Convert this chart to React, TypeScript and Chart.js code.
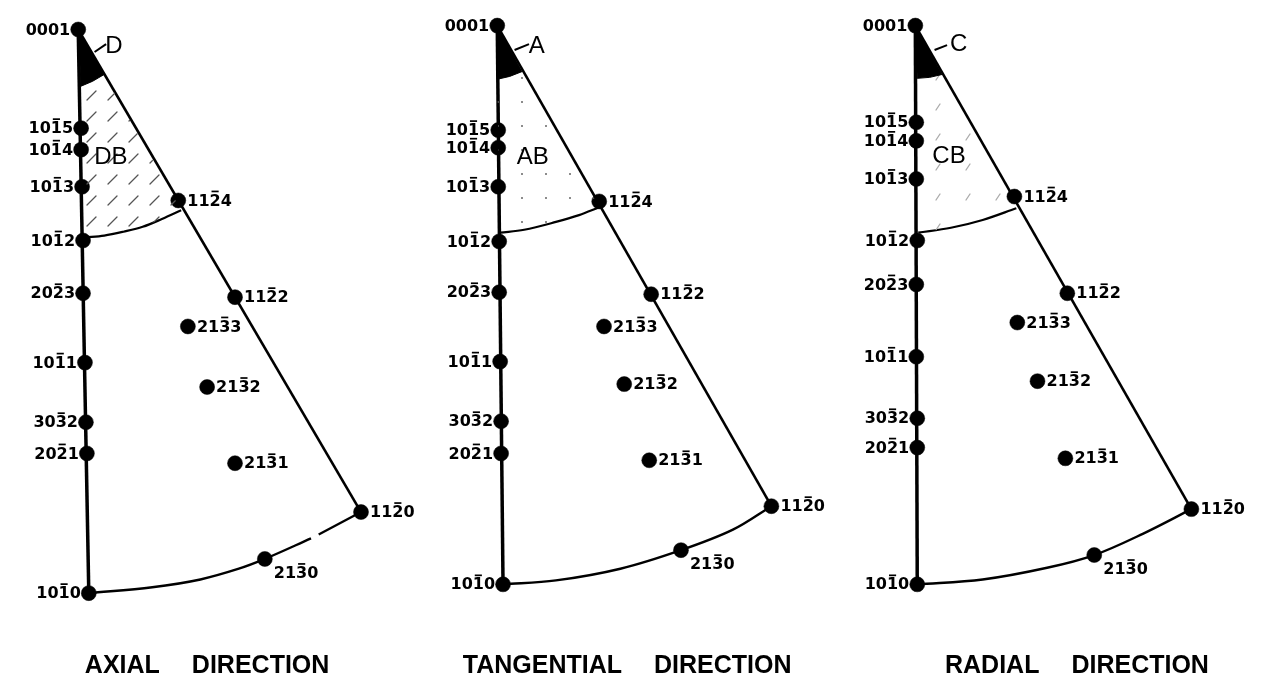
import React, { useEffect, useRef } from "react";
import { Chart, registerables } from "chart.js";

Chart.register(...registerables);

// ---- pole names (Miller-Bravais indices, overbar on the 3rd digit) ----
const poleLabels = ["0001", "1015", "1014", "1013", "1012", "2023", "1011", "3032", "2021", "1010", "2130", "1120", "2131", "2132", "2133", "1122", "1124"];
const poleBar = [-1, 2, 2, 2, 2, 2, 2, 2, 2, 2, 2, 2, 2, 2, 2, 2, 2];
const poleSide = ["left", "left", "left", "left", "left", "left", "left", "left", "left", "left", "below", "right", "right", "right", "right", "right", "right"];

// ---- panel titles ----
const titleFirst = ["AXIAL", "TANGENTIAL", "RADIAL"];
const titleSecond = ["DIRECTION", "DIRECTION", "DIRECTION"];
const titleCenterX = [207, 207, 238];
const titleY = 674;

// ---- region letters ----
const capLetters = ["D", "A", "C"];
const capLetterX = [110, 113, 115];
const capLetterY = [39, 39, 37];
const bandLetters = ["DB", "AB", "CB"];
const bandLetterX = [107, 109, 105];
const bandLetterY = [153, 153, 152];

// ---- pole positions (diagram units, y downward) ----
const axialX = [73, 76, 76, 77, 78, 78, 80, 81, 82, 84, 267, 367, 236, 207, 187, 236, 177];
const axialY = [22, 123, 145, 183, 238, 292, 363, 424, 456, 599, 564, 516, 466, 388, 326, 296, 197];
const tangentialX = [72, 73, 73, 73, 74, 74, 75, 76, 76, 78, 263, 357, 230, 204, 183, 232, 178];
const tangentialY = [18, 125, 143, 183, 239, 291, 362, 423, 456, 590, 555, 510, 463, 385, 326, 293, 198];
const radialX = [70, 71, 71, 71, 72, 71, 71, 72, 72, 72, 256, 357, 226, 197, 176, 228, 173];
const radialY = [18, 117, 136, 175, 238, 283, 357, 420, 450, 590, 560, 513, 461, 382, 322, 292, 193];

// ---- outer arc (10-10 -> 21-30 -> 11-20) ----
const axialOuterX = [84, 150, 200, 240, 267, 315, 319, 323, 367];
const axialOuterY: (number | null)[] = [599, 593, 585, 574, 564, 543, null, 539, 516];
const tangentialOuterX = [78, 133, 200, 263, 317, 357];
const tangentialOuterY: (number | null)[] = [590, 586, 574, 555, 534, 510];
const radialOuterX = [72, 140, 207, 256, 307, 357];
const radialOuterY: (number | null)[] = [590, 585, 573, 560, 538, 513];

// ---- inner arc (10-12 -> 11-24) ----
const axialInnerX = [80, 100, 120, 140, 160, 180];
const axialInnerY = [235, 233, 229, 224, 216, 207];
const tangentialInnerX = [75, 100, 133, 157, 178];
const tangentialInnerY = [230, 227, 219, 212, 204];
const radialInnerX = [73, 107, 140, 175];
const radialInnerY = [230, 225, 217, 205];

// ---- dark cap region (D / A / C) ----
const axialCapX = [73, 76, 88, 100];
const axialCapY = [22, 80, 75, 68];
const tangentialCapX = [72, 72, 85, 98];
const tangentialCapY = [18, 73, 70, 65];
const radialCapX = [70, 72, 85, 98];
const radialCapY = [18, 72, 71, 68];

// ---- band region (DB / AB / CB) ----
const axialBandX = [76, 78, 100, 120, 140, 160, 180, 100, 88];
const axialBandY = [80, 235, 233, 229, 224, 216, 207, 68, 75];
const tangentialBandX = [72, 75, 100, 133, 157, 178, 98, 85];
const tangentialBandY = [73, 230, 227, 219, 212, 204, 65, 70];
const radialBandX = [72, 73, 107, 140, 175, 98, 85];
const radialBandY = [72, 230, 225, 217, 205, 68, 71];

// ---- leader line to the cap letter ----
const axialLeaderX = [90, 102];
const axialLeaderY = [45, 37];
const tangentialLeaderX = [90, 105];
const tangentialLeaderY = [43, 37];
const radialLeaderX = [90, 103];
const radialLeaderY = [43, 38];

const pts = (xs: number[], ys: (number | null)[]) => xs.map((x, i) => ({ x, y: ys[i] }));

function makePattern(kind: number): CanvasPattern | string {
  const c = document.createElement("canvas");
  const size = kind === 0 ? 21 : kind === 1 ? 24 : 30;
  c.width = size;
  c.height = size;
  const g = c.getContext("2d");
  if (!g) return "rgba(0,0,0,0)";
  g.strokeStyle = kind === 2 ? "#aaa" : "#555";
  g.fillStyle = "#666";
  g.lineWidth = 1.3;
  g.lineCap = "round";
  if (kind === 0) {
    g.beginPath();
    g.moveTo(3, 16);
    g.lineTo(12, 7);
    g.stroke();
  } else if (kind === 1) {
    g.beginPath();
    g.arc(6, 6, 1, 0, Math.PI * 2);
    g.fill();
  } else {
    g.beginPath();
    g.moveTo(6, 20);
    g.lineTo(10, 14);
    g.stroke();
  }
  const p = g.createPattern(c, "repeat");
  return p || "rgba(0,0,0,0)";
}

type PanelData = {
  xs: number[]; ys: number[];
  outerX: number[]; outerY: (number | null)[];
  innerX: number[]; innerY: number[];
  capX: number[]; capY: number[];
  bandX: number[]; bandY: number[];
  leadX: number[]; leadY: number[];
};

const panels: PanelData[] = [
  { xs: axialX, ys: axialY, outerX: axialOuterX, outerY: axialOuterY, innerX: axialInnerX, innerY: axialInnerY, capX: axialCapX, capY: axialCapY, bandX: axialBandX, bandY: axialBandY, leadX: axialLeaderX, leadY: axialLeaderY },
  { xs: tangentialX, ys: tangentialY, outerX: tangentialOuterX, outerY: tangentialOuterY, innerX: tangentialInnerX, innerY: tangentialInnerY, capX: tangentialCapX, capY: tangentialCapY, bandX: tangentialBandX, bandY: tangentialBandY, leadX: tangentialLeaderX, leadY: tangentialLeaderY },
  { xs: radialX, ys: radialY, outerX: radialOuterX, outerY: radialOuterY, innerX: radialInnerX, innerY: radialInnerY, capX: radialCapX, capY: radialCapY, bandX: radialBandX, bandY: radialBandY, leadX: radialLeaderX, leadY: radialLeaderY },
];

function makeLabelPlugin(k: number) {
  const p = panels[k];
  return {
    id: "poleLabels" + k,
    afterDatasetsDraw(chart: any) {
      const ctx: CanvasRenderingContext2D = chart.ctx;
      const xs = chart.scales.x;
      const ys = chart.scales.y;
      ctx.save();
      ctx.fillStyle = "#000";
      ctx.strokeStyle = "#000";
      ctx.font = 'bold 16px "DejaVu Sans"';
      ctx.textBaseline = "middle";
      ctx.textAlign = "left";
      poleLabels.forEach((lab, i) => {
        const px = xs.getPixelForValue(p.xs[i]);
        const py = ys.getPixelForValue(p.ys[i]);
        const w = ctx.measureText(lab).width;
        let tx = px + 9;
        let ty = py + 1;
        if (poleSide[i] === "left") tx = px - 8 - w;
        if (poleSide[i] === "below") ty = py + 15;
        ctx.fillText(lab, tx, ty);
        const b = poleBar[i];
        if (b >= 0) {
          const pre = ctx.measureText(lab.slice(0, b)).width;
          const cw = ctx.measureText(lab[b]).width;
          ctx.lineWidth = 1.7;
          ctx.beginPath();
          ctx.moveTo(tx + pre + 2, ty - 10);
          ctx.lineTo(tx + pre + cw - 2, ty - 10);
          ctx.stroke();
        }
      });
      // region letters
      ctx.font = '24px "Liberation Sans"';
      ctx.textAlign = "center";
      ctx.fillText(capLetters[k], xs.getPixelForValue(capLetterX[k]), ys.getPixelForValue(capLetterY[k]));
      ctx.fillText(bandLetters[k], xs.getPixelForValue(bandLetterX[k]), ys.getPixelForValue(bandLetterY[k]));
      // title
      ctx.font = 'bold 25px "Liberation Sans"';
      ctx.textAlign = "left";
      const gap = 32;
      const w1 = ctx.measureText(titleFirst[k]).width;
      const w2 = ctx.measureText(titleSecond[k]).width;
      const cx = xs.getPixelForValue(titleCenterX[k]);
      const start = cx - (w1 + gap + w2) / 2;
      const tyy = ys.getPixelForValue(titleY);
      ctx.fillText(titleFirst[k], start, tyy);
      ctx.fillText(titleSecond[k], start + w1 + gap, tyy);
      ctx.restore();
    },
  };
}

function Panel({ k }: { k: number }) {
  const ref = useRef<HTMLCanvasElement | null>(null);
  useEffect(() => {
    if (!ref.current) return;
    const p = panels[k];
    const poles = pts(p.xs, p.ys);
    const line = { showLine: true, pointRadius: 0, borderColor: "#000", fill: false, clip: false as any };
    const chart = new Chart(ref.current, {
      type: "scatter",
      data: {
        datasets: [
          { ...line, label: "cap", data: pts(p.capX, p.capY), borderWidth: 1, backgroundColor: "#000", fill: "shape" },
          { ...line, label: "band", data: pts(p.bandX, p.bandY), borderWidth: 0, backgroundColor: makePattern(k) as any, fill: "shape" },
          { ...line, label: "left", data: [poles[0], poles[9]], borderWidth: 3.5 },
          { ...line, label: "right", data: [poles[0], poles[11]], borderWidth: 2.6 },
          { ...line, label: "outer", data: pts(p.outerX, p.outerY), borderWidth: 2.4, tension: 0.35, spanGaps: false },
          { ...line, label: "inner", data: pts(p.innerX, p.innerY), borderWidth: 2.2, tension: 0.35 },
          { ...line, label: "leader", data: pts(p.leadX, p.leadY), borderWidth: 2 },
          { label: "poles", data: poles, pointRadius: 7.5, pointBackgroundColor: "#000", pointBorderColor: "#000", pointBorderWidth: 0.5, showLine: false, clip: false as any },
        ] as any,
      },
      options: {
        animation: false,
        responsive: true,
        maintainAspectRatio: false,
        layout: { padding: 0 },
        events: [],
        plugins: { legend: { display: false }, tooltip: { enabled: false }, title: { display: false } },
        scales: {
          x: { type: "linear", min: 0, max: 420, display: false },
          y: { type: "linear", min: 0, max: 691, reverse: true, display: false },
        },
      },
      plugins: [makeLabelPlugin(k)],
    });
    return () => chart.destroy();
  }, [k]);
  return (
    <div style={{ position: "absolute", left: 420 * k, top: 0, width: 420, height: 691 }}>
      <canvas ref={ref} />
    </div>
  );
}

export default function App() {
  return (
    <div style={{ position: "fixed", left: 0, top: 0, width: 1262, height: 691, background: "#fff", overflow: "hidden" }}>
      <Panel k={0} />
      <Panel k={1} />
      <Panel k={2} />
    </div>
  );
}
